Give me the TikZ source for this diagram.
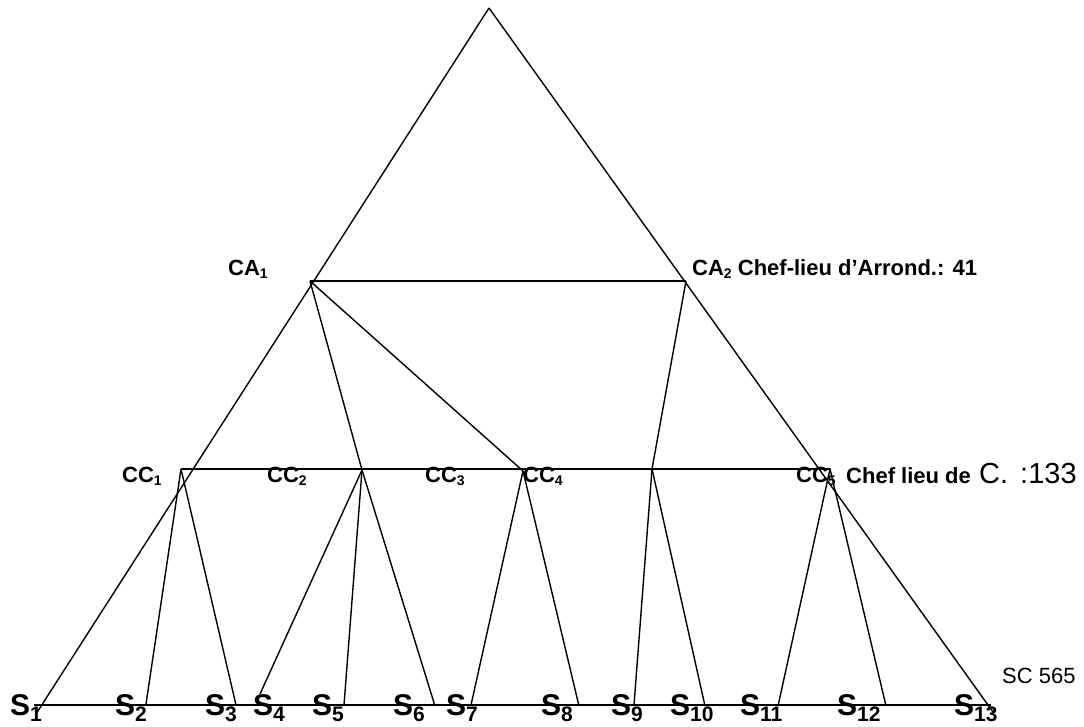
\documentclass[tikz,border=0pt]{standalone}
\usepackage{fontspec}
\setmainfont{Liberation Sans}
\newcommand{\mylab}[2]{#1{\fontsize{14}{14}\selectfont\raisebox{-3pt}{#2}}}
\newcommand{\myslab}[2]{#1{\fontsize{21}{21}\selectfont\raisebox{-6pt}{#2}}}
\begin{document}
\begin{tikzpicture}[x=1pt,y=-1pt,
  edge/.style={line width=1.4pt},
  cclab/.style={anchor=base west,inner sep=0pt,font=\fontsize{22}{22}\selectfont\bfseries},
  slab/.style={anchor=base west,inner sep=0pt,font=\fontsize{30}{30}\selectfont\bfseries},
  plain/.style={anchor=base west,inner sep=0pt}]
\useasboundingbox (0,0) rectangle (1084,726);
% vertices
\coordinate (apex) at (489,8);
\coordinate (ca1) at (310,281);
\coordinate (ca2) at (686,281);
\coordinate (cc1) at (181,469);
\coordinate (cc2) at (362,470);
\coordinate (cc4) at (523,471);
\coordinate (ccm) at (652,469);
\coordinate (cc5) at (830,469);
\coordinate (ccr) at (831,469);
\coordinate (bl) at (34,705);
\coordinate (br) at (991,705);
\coordinate (e1) at (36,714);
\coordinate (e2) at (146,704);
\coordinate (e3) at (236,705);
\coordinate (e4) at (260,694);
\coordinate (e5) at (344,705);
\coordinate (e6) at (435,706);
\coordinate (e7) at (471,705);
\coordinate (e8) at (579,706);
\coordinate (e9) at (634,705);
\coordinate (e10) at (705,706);
\coordinate (e11) at (778,706);
\coordinate (e12) at (886,706);
\coordinate (e13) at (993,712);
% labels
\node[cclab] (lca1) at (228,275) {\mylab{CA}{1}};
\node[cclab] (lca2) at (692,275) {\mylab{CA}{2} Chef-lieu d’Arrond.: 41};
\node[cclab] (lcc1) at (122,482) {\mylab{CC}{1}};
\node[cclab] (lcc2) at (267,482) {\mylab{CC}{2}};
\node[cclab] (lcc3) at (425,482) {\mylab{CC}{3}};
\node[cclab] (lcc4) at (523,482) {\mylab{CC}{4}};
\node[cclab] (lcc5) at (796,482) {\mylab{CC}{5}};
\node[cclab] (lchef) at (846,483) {Chef lieu de};
\node[plain,font=\fontsize{29}{29}\selectfont] (lc) at (979,483) {C.\hspace{4pt} :133};
\node[plain,font=\fontsize{22}{22}\selectfont] (lsc) at (1002,683) {SC 565};
\node[slab] (s1) at (10,715) {\myslab{S}{1}};
\node[slab] (s2) at (115,715) {\myslab{S}{2}};
\node[slab] (s3) at (205,715) {\myslab{S}{3}};
\node[slab] (s4) at (253,715) {\myslab{S}{4}};
\node[slab] (s5) at (312,715) {\myslab{S}{5}};
\node[slab] (s6) at (393,715) {\myslab{S}{6}};
\node[slab] (s7) at (446,715) {\myslab{S}{7}};
\node[slab] (s8) at (541,715) {\myslab{S}{8}};
\node[slab] (s9) at (611,715) {\myslab{S}{9}};
\node[slab] (s10) at (670,715) {\myslab{S}{10}};
\node[slab] (s11) at (740,715) {\myslab{S}{11}};
\node[slab] (s12) at (837,715) {\myslab{S}{12}};
\node[slab] (s13) at (954,715) {\myslab{S}{13}};
% lines
\draw[edge] (apex) -- (e1);
\draw[edge] (apex) -- (e13);
\draw[edge] (ca1) -- (ca2);
\draw[edge] (cc1) -- (ccr);
\draw[edge] (bl) -- (br);
\draw[edge] (ca1) -- (cc2);
\draw[edge] (ca1) -- (cc4);
\draw[edge] (ca2) -- (ccm);
\draw[edge] (cc1) -- (e2);
\draw[edge] (cc1) -- (e3);
\draw[edge] (cc2) -- (e4);
\draw[edge] (cc2) -- (e5);
\draw[edge] (cc2) -- (e6);
\draw[edge] (cc4) -- (e7);
\draw[edge] (cc4) -- (e8);
\draw[edge] (ccm) -- (e9);
\draw[edge] (ccm) -- (e10);
\draw[edge] (cc5) -- (e11);
\draw[edge] (cc5) -- (e12);
\end{tikzpicture}
\end{document}
